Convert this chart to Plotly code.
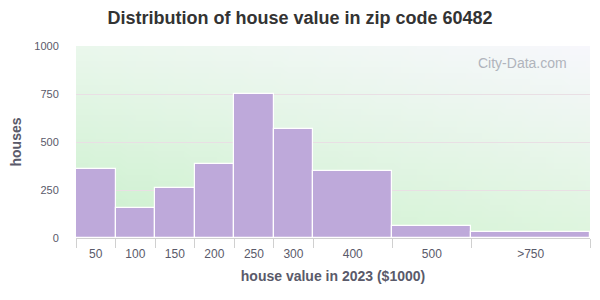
import base64, struct, zlib
import plotly.graph_objects as go

# ---- data ----
categories = ["50", "100", "150", "200", "250", "300", "400", "500", ">750"]
bin_edges = [0, 1, 2, 3, 4, 5, 6, 8, 10, 13]   # display bin boundaries (bins of unequal width)
houses = [358, 155, 259, 384, 748, 569, 347, 61, 31]
y_ticks = [0, 250, 500, 750, 1000]

centers = [(a + b) / 2 for a, b in zip(bin_edges[:-1], bin_edges[1:])]
widths = [b - a for a, b in zip(bin_edges[:-1], bin_edges[1:])]

# ---- gradient background as a tiny PNG ----
def gradient_png(w=64, h=32):
    tl, tr = (234, 247, 236), (247, 247, 252)
    bl, br = (203, 240, 205), (222, 245, 222)
    raw = b""
    for j in range(h):
        v = j / (h - 1)
        raw += b"\x00"
        for i in range(w):
            u = i / (w - 1)
            px = []
            for k in range(3):
                top = tl[k] * (1 - u) + tr[k] * u
                bot = bl[k] * (1 - u) + br[k] * u
                px.append(int(round(top * (1 - v) + bot * v)))
            raw += bytes(px)
    def chunk(t, d):
        c = struct.pack(">I", len(d)) + t + d
        return c + struct.pack(">I", zlib.crc32(t + d) & 0xffffffff)
    png = b"\x89PNG\r\n\x1a\n" + chunk(b"IHDR", struct.pack(">IIBBBBB", w, h, 8, 2, 0, 0, 0))
    png += chunk(b"IDAT", zlib.compress(raw)) + chunk(b"IEND", b"")
    return "data:image/png;base64," + base64.b64encode(png).decode()

fig = go.Figure()
fig.add_trace(go.Bar(
    x=centers, y=houses, width=widths,
    marker=dict(color="#bea9da", line=dict(color="white", width=1.2)),
    hoverinfo="skip", showlegend=False,
))
fig.add_trace(go.Scatter(x=centers, y=houses, xaxis="x2", mode="markers",
                         marker=dict(opacity=0), showlegend=False, hoverinfo="skip"))

tick_font = dict(family="Liberation Sans, Arial, sans-serif", color="#5a5a6a")
fig.update_layout(
    width=600, height=300,
    margin=dict(l=76, r=10, t=46, b=62),
    paper_bgcolor="white", plot_bgcolor="rgba(0,0,0,0)",
    bargap=0,
    title=dict(text="<b>Distribution of house value in zip code 60482</b>",
               x=0.5, xref="container", xanchor="center",
               y=1 - 18 / 300, yref="container", yanchor="middle",
               font=dict(family="Liberation Sans, Arial, sans-serif", size=18, color="#333333")),
    xaxis=dict(range=[bin_edges[0], bin_edges[-1]], tickvals=bin_edges, showticklabels=False,
               ticks="outside", ticklen=9, tickcolor="#d0d0d0", tickwidth=1,
               showline=True, linecolor="#d0d0d0", linewidth=1,
               showgrid=False, zeroline=False, fixedrange=True),
    xaxis2=dict(range=[bin_edges[0], bin_edges[-1]], overlaying="x", side="bottom",
                tickvals=centers, ticktext=categories,
                ticks="outside", ticklen=5, tickcolor="rgba(0,0,0,0)",
                tickfont=dict(size=12, **tick_font),
                showgrid=False, zeroline=False, showline=False,
                title=dict(text="<b>house value in 2023 ($1000)</b>", standoff=10,
                           font=dict(family="Liberation Sans, Arial, sans-serif", size=14, color="#5a5a6a"))),
    yaxis=dict(range=[0, 1000], tickvals=y_ticks, ticks="outside", ticklen=14,
               tickcolor="rgba(0,0,0,0)", tickfont=dict(size=11, **tick_font),
               showgrid=True, gridcolor="#e9dfe4", gridwidth=1, zeroline=False, showline=False,
               title=dict(text="<b>houses</b>", standoff=9,
                          font=dict(family="Liberation Sans, Arial, sans-serif", size=14, color="#5a5a6a"))),
    images=[dict(source=gradient_png(), xref="paper", yref="paper", x=0, y=1,
                 sizex=1, sizey=1, xanchor="left", yanchor="top",
                 sizing="stretch", layer="below")],
    annotations=[dict(text="City-Data.com", xref="paper", yref="paper",
                      x=(522 - 76) / 514, y=1 - (63 - 46) / 192, xanchor="center", yanchor="middle",
                      showarrow=False,
                      font=dict(family="Liberation Sans, Arial, sans-serif", size=14, color="#b0b4bc"))],
)

fig.write_html("out.html")
